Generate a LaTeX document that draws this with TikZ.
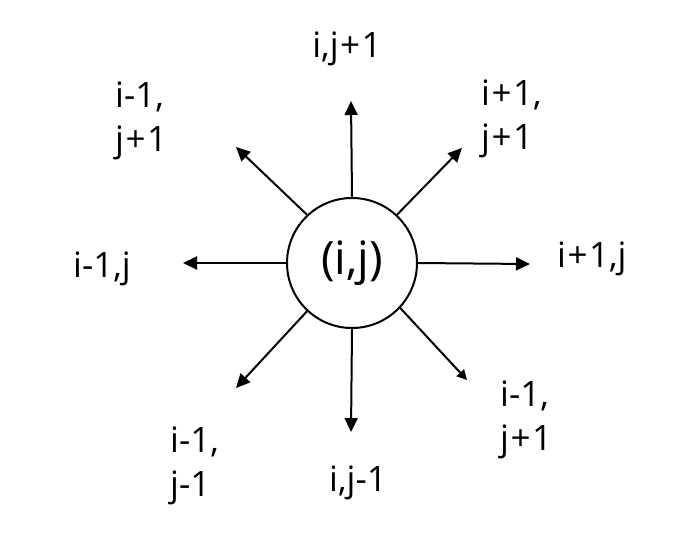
\documentclass[tikz,border=0pt]{standalone}
\usepackage{fontspec}
\setmainfont{Open Sans}
\usetikzlibrary{arrows.meta}
\newcommand{\pl}{\kern1.5pt+\kern1.5pt}
\begin{document}
\begin{tikzpicture}[x=1pt,y=-1pt,
  lbl/.style={inner sep=0pt,align=left,font=\fontsize{35}{44}\selectfont},
  arr/.style={line width=2pt,-{Triangle[length=14pt,width=13pt]}},
  ctr/.style={circle,draw,line width=2pt,minimum size=130pt,inner sep=0pt,font=\fontsize{46}{52}\selectfont}]
\useasboundingbox (0,0) rectangle (679,538);
\node[ctr] (c) at (352,263) {(i,j)};
\coordinate (tn) at (351,101);
\coordinate (tne) at (462,148);
\coordinate (te) at (530,264);
\coordinate (tse) at (467,380);
\coordinate (ts) at (351,432);
\coordinate (tsw) at (236,388);
\coordinate (tw) at (183,263);
\coordinate (tnw) at (236,147);
\draw[arr] (c.90) -- (tn);
\draw[arr] (c.47) -- (tne);
\draw[arr] (c.0) -- (te);
\draw[arr,-{Triangle[length=10pt,width=10pt]}] (c.-43) -- (tse);
\draw[arr] (c.-90) -- (ts);
\draw[arr] (c.-133) -- (tsw);
\draw[arr] (c.180) -- (tw);
\draw[arr] (c.133) -- (tnw);
\node[lbl,anchor=base] (ln) at (347,57) {i,j\pl1};
\node[lbl,anchor=west] (lne) at (481,119) {i\pl1,\\j\pl1};
\node[lbl,anchor=base west] (le) at (557,267) {i\pl1,j};
\node[lbl,anchor=west] (lse) at (500,420) {i-1,\\j\pl1};
\node[lbl,anchor=base] (ls) at (358,491) {i,j-1};
\node[lbl,anchor=west] (lsw) at (170,466) {i-1,\\j-1};
\node[lbl,anchor=base west] (lw) at (73,277) {i-1,j};
\node[lbl,anchor=west] (lnw) at (115,121) {i-1,\\j\pl1};
\end{tikzpicture}
\end{document}
